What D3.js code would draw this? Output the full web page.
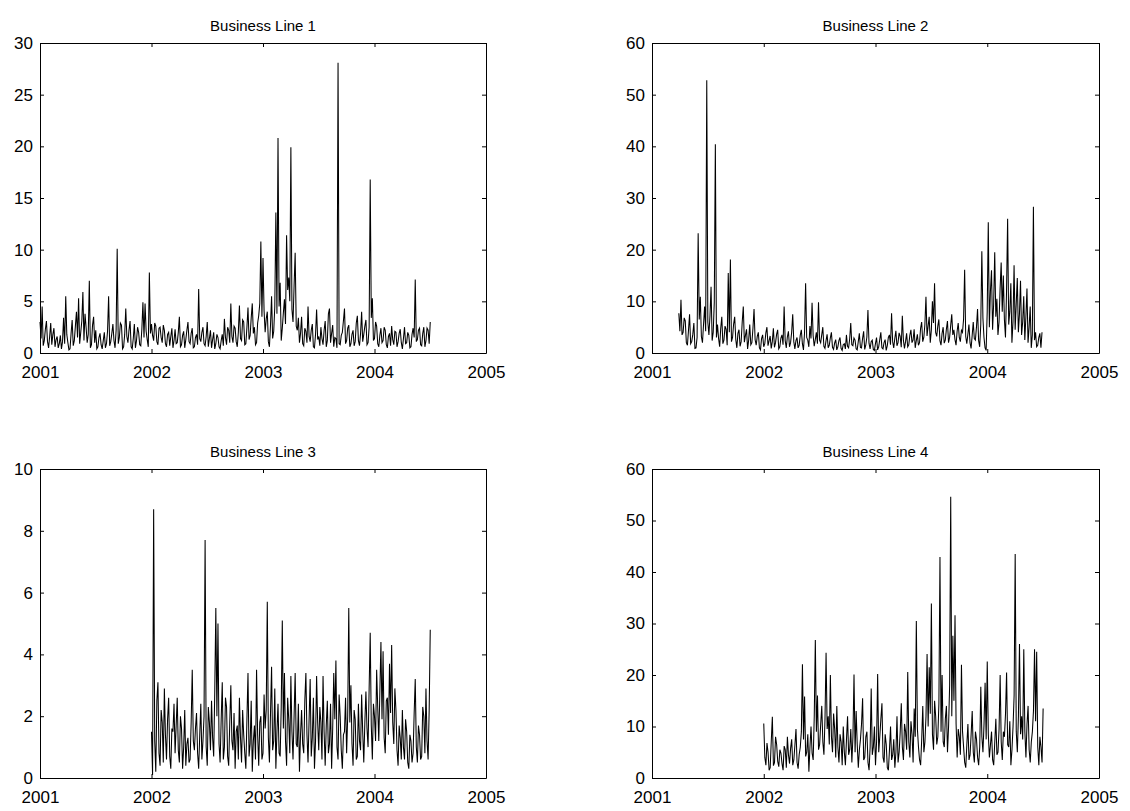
<!DOCTYPE html>
<html>
<head>
<meta charset="utf-8">
<script src="https://cdn.jsdelivr.net/npm/d3@7"></script>
<style>
  html, body { margin: 0; padding: 0; background: #fff; }
  svg { display: block; }
  text { font-family: "Liberation Sans", Arial, Helvetica, sans-serif; fill: #000; }
</style>
</head>
<body>
<svg id="chart" width="1130" height="811"></svg>
<script>
// ---------------- data ----------------
const titles = ["Business Line 1", "Business Line 2", "Business Line 3", "Business Line 4"];
const xTicks = [2001, 2002, 2003, 2004, 2005];
const yTicks1 = [0, 5, 10, 15, 20, 25, 30];
const yTicks2 = [0, 10, 20, 30, 40, 50, 60];
const yTicks3 = [0, 2, 4, 6, 8, 10];
const yTicks4 = [0, 10, 20, 30, 40, 50, 60];
const starts = [2001.0, 2001.24, 2002.0, 2002.0];   // first observation (year)
const stepYears = 1 / 104;                         // twice-weekly observations

const line1 = [
  3.0,1.4,4.5,0.7,1.2,2.3,3.1,1.1,0.5,1.6,2.9,0.8,1.8,2.4,0.6,1.3,1.6,0.5,0.9,1.7,
  0.4,1.1,3.4,0.9,5.5,1.8,1.0,0.3,0.4,1.9,3.2,0.7,1.2,2.6,4.0,1.5,5.3,0.9,2.0,3.1,
  5.9,1.2,3.8,2.5,1.0,1.8,7.0,0.5,0.8,2.7,3.5,1.0,2.2,0.4,0.6,1.5,1.9,0.8,0.4,1.2,
  2.0,0.5,0.9,2.1,5.5,0.7,1.1,1.9,2.8,1.2,0.5,2.2,10.1,0.9,1.5,2.9,2.7,0.4,0.6,1.8,
  4.3,1.6,1.0,2.2,3.1,0.6,0.4,1.4,2.8,0.5,1.2,2.5,2.0,0.8,0.7,2.3,4.9,1.5,4.8,2.1,
  1.3,0.6,7.8,1.9,2.8,1.7,1.2,2.9,2.6,1.1,0.8,2.4,2.5,1.5,1.0,2.7,2.2,0.9,0.6,1.8,
  2.0,0.7,1.6,2.4,0.5,1.2,2.3,0.9,1.0,2.0,3.5,0.6,0.8,1.7,2.1,0.5,1.3,2.2,3.0,1.1,
  0.9,1.9,2.4,0.5,0.6,1.5,1.8,0.8,6.2,1.4,1.1,2.0,2.5,0.9,0.7,1.6,3.0,0.6,1.4,2.2,
  0.5,1.3,2.0,0.4,0.9,1.8,1.5,0.6,0.4,1.2,1.8,0.7,3.3,1.5,0.8,2.5,2.2,1.0,4.8,1.6,
  1.0,2.6,2.4,1.1,0.6,2.0,4.6,1.4,1.2,3.2,3.0,0.8,0.9,2.5,4.4,1.3,1.7,3.4,4.8,1.9,
  2.5,0.8,1.0,2.9,3.6,4.8,10.8,3.5,9.2,4.1,2.0,3.3,4.0,1.1,0.6,2.7,5.5,1.4,2.1,4.5,
  13.6,3.8,20.8,4.5,6.8,1.2,2.4,3.9,5.2,2.8,11.4,6.1,7.3,5.0,19.9,4.2,3.0,6.5,9.7,2.6,
  2.2,3.4,1.0,1.9,3.5,0.9,0.7,2.4,2.1,1.0,4.5,1.6,1.1,2.2,2.8,0.6,0.5,1.8,4.2,1.3,
  1.6,0.7,2.5,1.4,0.8,2.2,3.1,0.6,1.2,3.8,4.3,1.0,1.9,2.7,0.6,1.5,1.4,0.5,28.1,0.9,
  0.8,1.7,2.0,3.1,4.3,0.9,1.2,2.4,2.7,0.6,0.9,1.8,2.2,0.7,1.1,2.9,3.6,1.2,0.7,1.9,
  4.0,1.1,1.8,2.6,3.2,0.8,1.0,2.5,16.8,3.4,5.3,1.2,1.4,3.0,2.6,0.9,0.6,1.7,2.4,1.0,
  1.2,2.5,2.2,0.8,0.5,1.6,1.9,0.7,2.6,1.3,0.8,2.1,2.0,0.6,1.1,1.9,2.3,1.0,0.4,1.4,
  2.5,0.9,1.0,2.0,1.7,0.5,0.6,1.8,2.4,1.5,7.1,1.1,1.3,2.2,2.4,0.8,0.7,1.9,2.5,0.6,
  1.2,2.4,2.2,0.9,3.0];

const line2 = [
  7.7,4.2,10.3,3.5,4.0,6.8,6.2,2.0,1.5,4.4,7.5,1.8,2.2,3.6,5.8,0.9,1.0,3.0,23.2,6.5,
  10.9,3.2,2.0,5.5,9.0,4.2,52.8,6.0,3.5,7.2,12.8,2.4,4.0,9.8,40.4,3.0,5.5,2.8,1.2,4.8,
  7.0,1.8,2.5,5.2,4.6,1.5,15.5,4.0,18.1,2.2,3.0,5.6,7.0,2.6,1.0,3.8,4.5,1.3,2.2,6.0,
  9.0,2.1,3.4,4.6,0.8,2.5,5.5,1.6,2.0,4.8,8.5,2.6,1.5,3.2,4.0,1.0,0.6,2.8,3.5,1.2,
  1.8,3.9,5.0,1.4,2.4,3.3,0.9,2.2,4.8,1.1,2.0,3.6,4.5,0.8,1.2,2.9,3.5,1.6,9.0,2.4,
  1.0,3.1,4.2,1.2,2.0,4.0,7.5,2.2,0.8,2.4,3.0,1.0,1.5,3.4,4.5,1.8,0.6,3.9,13.5,3.0,
  2.5,1.2,5.2,2.8,9.7,3.4,1.3,2.6,4.0,1.8,9.8,2.5,2.0,3.5,5.0,1.3,0.9,2.4,3.6,1.0,
  1.5,2.9,4.0,1.1,0.7,1.9,2.6,0.6,1.2,2.4,3.0,0.9,0.5,1.6,1.8,0.8,3.5,1.3,1.0,2.7,
  5.8,1.6,1.4,2.9,2.5,0.8,0.6,2.2,3.8,1.1,1.0,2.8,4.2,0.7,1.5,3.1,8.3,1.9,0.8,2.2,
  2.5,0.7,0.5,1.8,3.0,0.6,1.2,2.6,4.0,1.0,0.8,2.0,2.6,0.5,1.4,3.0,3.5,1.6,7.7,2.2,
  1.0,2.8,4.3,1.4,2.0,3.9,3.2,1.1,7.2,2.5,0.9,2.2,3.8,1.2,1.6,3.4,4.5,2.0,2.5,4.6,
  1.0,2.4,3.6,1.5,2.0,4.8,6.0,2.2,3.0,5.5,10.9,3.3,5.2,7.0,2.0,4.4,10.0,5.8,13.5,4.0,
  3.2,5.2,6.5,2.4,1.5,3.8,5.0,1.9,2.5,4.6,6.2,2.0,3.0,5.3,7.5,3.5,4.5,2.6,1.5,4.2,
  5.8,3.0,2.2,4.4,4.0,6.5,16.1,3.2,1.8,3.6,5.5,2.0,0.9,3.4,6.0,2.8,2.5,5.0,8.5,2.4,
  1.2,5.5,19.7,6.8,3.0,1.0,0.5,8.0,25.3,5.0,12.0,16.0,4.5,9.5,19.5,7.0,10.5,3.5,6.0,12.5,
  17.5,8.0,15.0,6.5,3.0,12.0,26.0,5.5,8.0,13.5,2.0,6.0,17.0,4.5,9.5,14.5,4.0,7.5,14.0,3.5,
  6.0,11.0,2.5,7.0,12.5,2.0,5.0,9.0,1.0,3.5,28.3,2.5,4.0,1.2,1.5,3.0,3.8,1.0,4.0];

const line3 = [
  1.5,0.1,8.7,1.2,0.2,2.5,3.1,0.8,0.4,2.2,1.8,0.5,2.9,1.4,0.6,1.9,2.6,0.7,0.3,1.6,
  1.5,2.4,0.8,1.7,2.6,0.9,0.5,2.0,1.6,0.3,1.0,2.2,0.4,1.1,1.3,0.5,0.6,1.8,3.5,1.2,
  0.9,1.6,2.1,0.8,0.3,1.4,2.4,0.6,1.2,2.0,7.7,1.0,0.4,2.3,1.8,0.9,2.5,1.3,0.7,2.8,
  5.5,2.0,5.0,1.1,0.5,1.9,3.1,0.6,1.0,2.6,2.3,0.7,0.4,1.8,3.0,1.2,0.9,2.1,0.3,1.5,
  1.7,0.6,2.6,1.3,0.5,2.2,1.4,0.8,0.3,1.9,3.4,0.7,1.1,2.5,0.2,1.2,1.7,0.6,3.5,1.4,
  0.4,1.8,2.0,0.6,0.8,2.7,1.6,2.2,5.7,1.3,0.5,2.1,3.6,0.9,1.2,2.9,0.3,1.5,2.4,0.8,
  0.7,2.3,5.1,1.6,3.4,1.2,0.4,2.6,1.9,0.8,3.3,1.5,0.6,2.0,3.4,1.1,1.0,2.4,0.2,1.4,
  2.2,1.1,0.8,2.5,3.4,1.4,0.5,1.9,3.2,0.7,1.3,2.6,0.3,1.2,3.3,1.8,0.9,2.3,1.8,0.6,
  3.3,1.5,0.4,1.7,2.5,0.8,1.1,2.4,0.3,1.6,3.4,1.9,3.8,1.0,0.6,2.7,2.0,0.9,0.3,1.4,
  1.5,2.6,0.8,2.0,5.5,1.8,3.0,1.1,0.4,2.2,1.9,0.6,0.7,2.4,1.2,0.9,2.7,1.5,0.5,1.8,
  2.8,1.6,1.0,2.9,4.7,1.7,0.6,2.4,2.0,1.2,3.5,2.3,1.2,2.8,4.4,1.9,4.1,1.3,0.8,2.5,
  2.6,1.4,3.7,2.1,4.3,1.8,1.1,2.9,2.2,0.9,0.4,1.7,1.3,0.6,2.2,1.0,0.6,1.9,1.5,0.5,
  0.3,1.4,1.2,0.5,0.8,2.1,3.2,1.0,0.5,1.7,1.4,0.6,0.7,2.3,2.0,0.8,2.9,1.2,0.6,2.2,
  4.8];

const line4 = [
  10.6,4.0,2.5,6.8,5.0,1.5,2.0,7.2,11.9,2.4,3.0,8.0,6.5,3.2,2.2,5.5,4.8,2.8,1.5,6.2,
  5.5,2.0,8.0,4.5,2.8,5.8,7.5,2.5,3.5,6.4,9.5,3.0,1.8,4.6,6.0,9.0,22.1,7.5,15.8,4.2,
  5.0,8.5,1.2,6.0,10.0,4.8,3.5,12.0,26.8,9.0,16.0,5.5,6.5,10.5,14.0,7.0,4.5,11.5,24.3,9.5,
  12.0,6.5,20.0,8.0,5.0,12.5,9.5,4.0,14.0,6.0,3.0,8.5,7.0,2.5,10.0,5.0,2.5,7.5,12.0,4.5,
  5.5,9.5,3.0,8.0,20.1,5.0,13.0,6.5,2.0,5.5,7.5,10.5,15.5,3.5,4.0,8.0,9.0,3.0,1.5,6.0,
  17.4,4.5,6.0,10.0,2.5,7.0,20.2,5.0,8.0,11.5,14.5,4.0,3.0,8.5,6.5,2.0,1.5,5.5,10.0,3.5,
  4.5,7.5,2.0,5.0,12.0,3.0,5.0,9.0,14.5,6.0,3.5,10.5,9.0,5.5,20.6,7.0,4.0,11.0,8.5,3.0,
  13.5,8.0,30.5,9.5,6.0,3.5,2.5,7.5,14.0,5.0,7.0,12.0,24.1,10.0,21.5,12.5,33.9,8.5,5.5,15.0,
  12.0,6.5,8.0,14.5,42.9,9.0,20.0,7.0,6.0,11.5,14.0,5.0,10.0,18.0,54.6,12.0,27.6,15.0,31.6,10.5,
  4.0,9.5,8.0,4.5,22.0,9.0,6.0,3.0,2.0,6.5,10.5,3.5,4.5,8.5,13.0,5.0,3.0,9.0,7.5,4.0,
  2.5,6.0,17.7,8.0,5.0,10.5,18.5,7.5,22.6,8.5,4.0,6.5,9.0,3.5,2.5,7.0,11.5,4.5,5.0,9.5,
  20.0,7.0,3.5,9.0,8.0,12.5,20.5,6.5,6.0,11.0,2.5,5.5,10.0,16.0,43.5,9.0,5.0,12.0,26.0,8.5,
  12.0,7.5,25.0,9.0,4.0,10.5,14.0,5.5,3.0,7.0,9.0,13.0,25.0,11.0,24.5,6.0,2.5,8.0,6.0,3.0,
  13.5];

// ---------------- layout ----------------
const panels = [
  { title: titles[0], values: line1, start: starts[0], yTicks: yTicks1, x0: 40,  x1: 486,  y0: 43,  y1: 353 },
  { title: titles[1], values: line2, start: starts[1], yTicks: yTicks2, x0: 652, x1: 1099, y0: 43,  y1: 353 },
  { title: titles[2], values: line3, start: starts[2], yTicks: yTicks3, x0: 40,  x1: 486,  y0: 469, y1: 778 },
  { title: titles[3], values: line4, start: starts[3], yTicks: yTicks4, x0: 652, x1: 1099, y0: 469, y1: 778 }
];

const svg = d3.select("#chart");
svg.append("rect").attr("width", 1130).attr("height", 811).attr("fill", "#fff");

const TICK = 4;

panels.forEach(p => {
  const x = d3.scaleLinear().domain([xTicks[0], xTicks[xTicks.length - 1]]).range([p.x0, p.x1]);
  const y = d3.scaleLinear().domain([p.yTicks[0], p.yTicks[p.yTicks.length - 1]]).range([p.y1, p.y0]);
  const g = svg.append("g");

  const data = p.values.map((v, i) => ({ t: p.start + i * stepYears, v }));

  // series
  g.append("path")
    .datum(data)
    .attr("fill", "none")
    .attr("stroke", "#000")
    .attr("stroke-width", 1.05)
    .attr("stroke-linejoin", "miter")
    .attr("d", d3.line().x(d => x(d.t)).y(d => y(d.v)));

  // axes (ticks pointing inward, MATLAB-like box)
  const bottom = g.append("g").attr("transform", `translate(0,${p.y1})`)
    .call(d3.axisBottom(x).tickValues(xTicks).tickFormat(d3.format("d")).tickSizeInner(-TICK).tickSizeOuter(0).tickPadding(12.5));
  const top = g.append("g").attr("transform", `translate(0,${p.y0})`)
    .call(d3.axisTop(x).tickValues(xTicks).tickFormat("").tickSizeInner(-TICK).tickSizeOuter(0));
  const left = g.append("g").attr("transform", `translate(${p.x0},0)`)
    .call(d3.axisLeft(y).tickValues(p.yTicks).tickFormat(d3.format("d")).tickSizeInner(-TICK).tickSizeOuter(0).tickPadding(7));
  const right = g.append("g").attr("transform", `translate(${p.x1},0)`)
    .call(d3.axisRight(y).tickValues(p.yTicks).tickFormat("").tickSizeInner(-TICK).tickSizeOuter(0));

  [bottom, top, left, right].forEach(a => {
    a.selectAll(".domain").attr("stroke", "#000").attr("stroke-width", 1);
    a.selectAll(".tick line").attr("stroke", "#000");
    a.selectAll("text").style("font-size", "17px").attr("fill", "#000")
      .style("font-family", "'Liberation Sans', Arial, sans-serif");
  });

  // title
  g.append("text")
    .attr("x", (p.x0 + p.x1) / 2)
    .attr("y", p.y0 - 12)
    .attr("text-anchor", "middle")
    .style("font-size", "15px")
    .text(p.title);
});
</script>
</body>
</html>
